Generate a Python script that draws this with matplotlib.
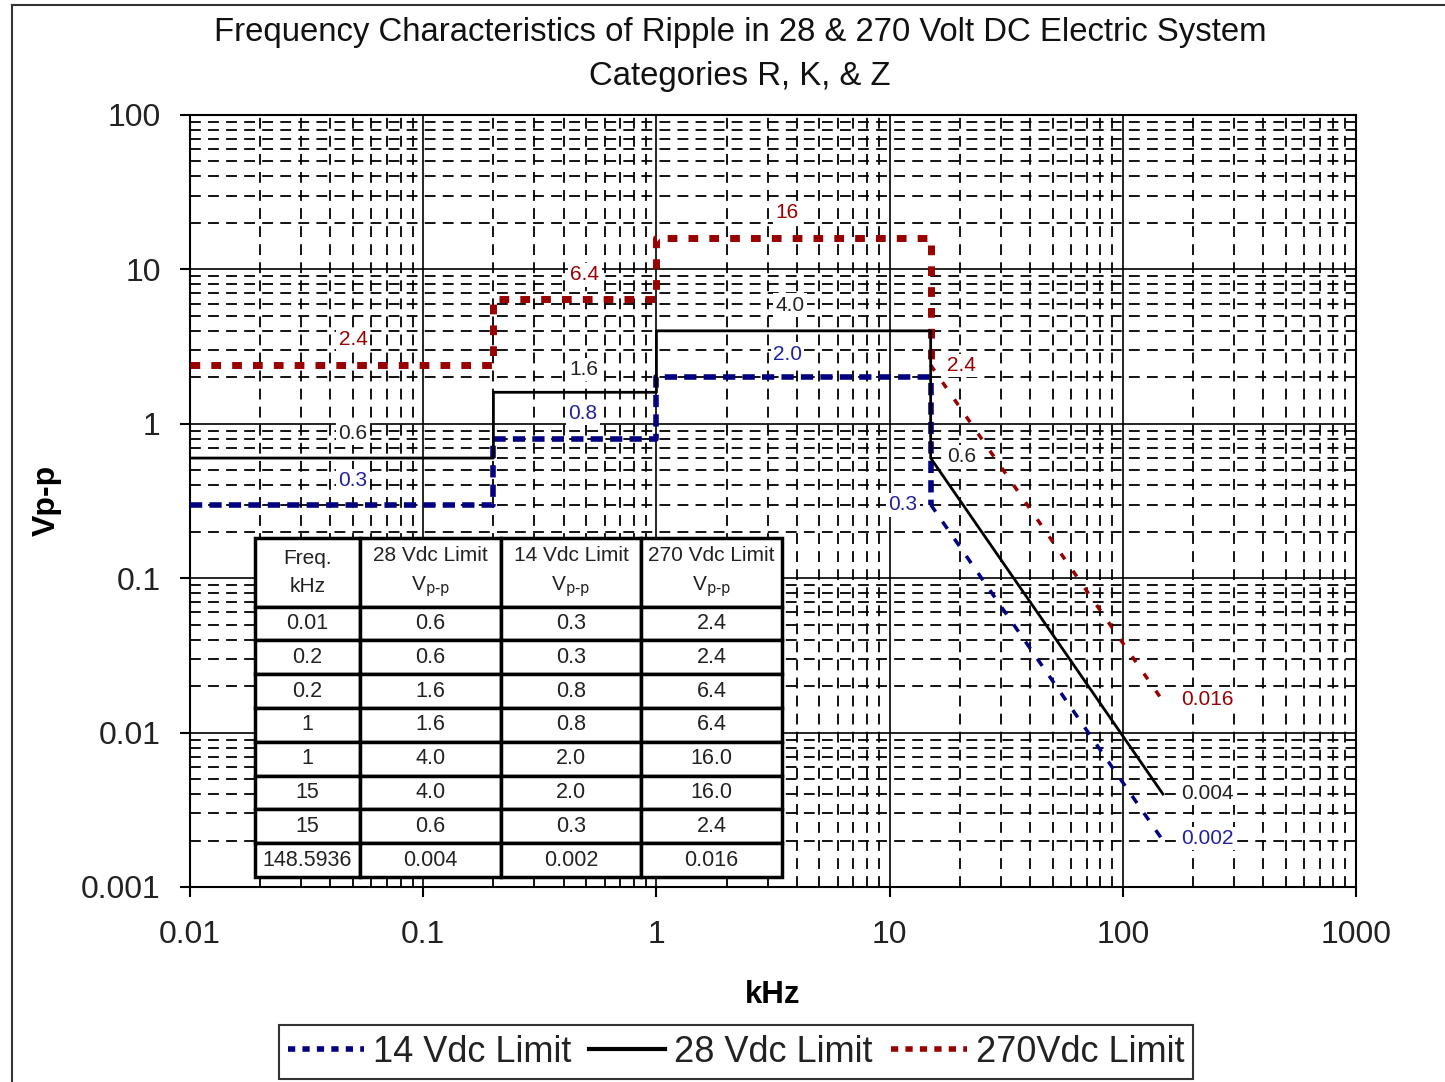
import matplotlib
matplotlib.use("Agg")
import matplotlib.pyplot as plt
from matplotlib.ticker import FixedLocator, NullFormatter, LogLocator
from matplotlib.lines import Line2D

plt.rcParams['font.family'] = ['Liberation Sans', 'DejaVu Sans']

# ---- data ----
freq_khz = [0.01, 0.2, 0.2, 1, 1, 15, 15, 148.5936]
v28 = [0.6, 0.6, 1.6, 1.6, 4.0, 4.0, 0.6, 0.004]
v14 = [0.3, 0.3, 0.8, 0.8, 2.0, 2.0, 0.3, 0.002]
v270 = [2.4, 2.4, 6.4, 6.4, 16.0, 16.0, 2.4, 0.016]

freq_labels = ["0.01", "0.2", "0.2", "1", "1", "15", "15", "148.5936"]
v28_labels = ["0.6", "0.6", "1.6", "1.6", "4.0", "4.0", "0.6", "0.004"]
v14_labels = ["0.3", "0.3", "0.8", "0.8", "2.0", "2.0", "0.3", "0.002"]
v270_labels = ["2.4", "2.4", "6.4", "6.4", "16.0", "16.0", "2.4", "0.016"]
table_header = ["Freq.\nkHz", "28 Vdc Limit\nV$_{\\mathrm{p\u2010p}}$", "14 Vdc Limit\nV$_{\\mathrm{p\u2010p}}$",
                "270 Vdc Limit\nV$_{\\mathrm{p\u2010p}}$"]

x_ticks = [0.01, 0.1, 1, 10, 100, 1000]
x_ticklabels = ["0.01", "0.1", "1", "10", "100", "1000"]
y_ticks = [0.001, 0.01, 0.1, 1, 10, 100]
y_ticklabels = ["0.001", "0.01", "0.1", "1", "10", "100"]

# value labels: (x, y, text, series)
point_labels = [
    (3.63, 23.5, "16", "270"), (0.494, 9.2, "6.4", "270"), (0.05, 3.49, "2.4", "270"),
    (3.74, 5.88, "4.0", "28"), (0.487, 2.26, "1.6", "28"), (3.66, 2.83, "2.0", "14"),
    (0.484, 1.17, "0.8", "14"), (0.05, 0.871, "0.6", "28"), (0.05, 0.427, "0.3", "14"),
    (20.4, 2.40, "2.4", "270"), (20.4, 0.61, "0.6", "28"), (11.4, 0.298, "0.3", "14"),
    (229.6, 0.0165, "0.016", "270"), (229.6, 0.00406, "0.004", "28"), (229.6, 0.00207, "0.002", "14"),
]

RED = "#990000"
BLUE = "#000080"
colors = {"270": RED, "28": "#222222", "14": "#2020a0"}

W, H = 1445, 1082
fig = plt.figure(figsize=(W / 100, H / 100), dpi=100)
ax = fig.add_axes([190 / W, 1 - 887 / H, (1356 - 190) / W, (887 - 115) / H])
ax.set_xscale("log")
ax.set_yscale("log")
ax.set_xlim(0.01, 1000)
ax.set_ylim(0.001, 100)

# grid
ax.xaxis.set_minor_locator(LogLocator(base=10, subs=range(2, 10)))
ax.yaxis.set_minor_locator(LogLocator(base=10, subs=range(2, 10)))
ax.xaxis.set_minor_formatter(NullFormatter())
ax.yaxis.set_minor_formatter(NullFormatter())
ax.grid(which="major", color="black", linewidth=1.2, linestyle="-", zorder=1)
ax.grid(which="minor", color="black", linewidth=1.3, linestyle=(0, (6, 4)), zorder=1)
ax.set_axisbelow(True)

ax.xaxis.set_major_locator(FixedLocator(x_ticks))
ax.set_xticklabels(x_ticklabels)
ax.yaxis.set_major_locator(FixedLocator(y_ticks))
ax.set_yticklabels(y_ticklabels)
ax.tick_params(which="major", direction="out", length=7, width=1.5, labelsize=23, colors="black")
ax.tick_params(axis="x", which="major", pad=17)
ax.tick_params(axis="y", which="major", pad=14)
ax.tick_params(which="minor", length=0)
for lab in ax.get_xticklabels() + ax.get_yticklabels():
    lab.set_color("#222222")
for s in ax.spines.values():
    s.set_linewidth(1.5)

# series: step part (thick) and roll-off part (thin, as rendered in the original)
ax.plot(freq_khz[:7], v270[:7], color=RED, linewidth=5, linestyle=(0, (1.4, 1.6)), zorder=3,
        dash_capstyle="butt")
ax.plot(freq_khz[6:], v270[6:], color=RED, linewidth=2.5, linestyle=(0, (2.0, 4.0)), zorder=3,
        dash_capstyle="butt")
ax.plot(freq_khz, v28, color="black", linewidth=2, linestyle="-", zorder=4)
ax.plot(freq_khz[:7], v14[:7], color=BLUE, linewidth=4, linestyle=(0, (2.2, 1.3)), zorder=3,
        dash_capstyle="butt")
ax.plot(freq_khz[6:], v14[6:], color=BLUE, linewidth=2.5, linestyle=(0, (2.5, 3.5)), zorder=3,
        dash_capstyle="butt")

for x, y, t, sname in point_labels:
    ax.text(x, y, t, color=colors[sname], fontsize=15, ha="center", va="center", zorder=5,
            bbox=dict(facecolor="white", edgecolor="none", pad=1.5))

# table
rows = [[f, a, b, c] for f, a, b, c in zip(freq_labels, v28_labels, v14_labels, v270_labels)]
tx0, tx1, ty_top, ty_bot = 255, 782, 538, 877
bbox = [(tx0 - 190) / 1166, (887 - ty_bot) / 772, (tx1 - tx0) / 1166, (ty_bot - ty_top) / 772]
tbl = ax.table(cellText=[table_header] + rows, cellLoc="center", bbox=bbox,
               colWidths=[105, 141, 140, 141], zorder=6)
tbl.auto_set_font_size(False)
tbl.set_fontsize(15.5)
for (r, c), cell in tbl.get_celld().items():
    cell.set_linewidth(2.5)
    cell.set_edgecolor("black")
    cell.set_facecolor("white")
    txt = cell.get_text()
    txt.set_color("#222222")
    if r == 0:
        cell.set_height(2.03)
        txt.set_fontsize(15)
        txt.set_linespacing(1.6)
    else:
        cell.set_height(1.0)
    cell.PAD = 0.02

# titles and labels
fig.text(740 / W, 1 - 33 / H, "Frequency Characteristics of Ripple in 28 & 270 Volt DC Electric System",
         ha="center", va="center", fontsize=23.7, color="#111111")
fig.text(740 / W, 1 - 77 / H, "Categories R, K, & Z", ha="center", va="center", fontsize=23.7, color="#111111")
fig.text(773 / W, 1 - 995 / H, "kHz", ha="center", va="center", fontsize=22.5, fontweight="bold")
fig.text(47 / W, 1 - 500 / H, "Vp-p", ha="center", va="center", fontsize=23, fontweight="bold", rotation=90)

# legend
handles = [
    Line2D([], [], color=BLUE, linewidth=4, linestyle=(0, (1.3, 1.3)), dash_capstyle="butt"),
    Line2D([], [], color="black", linewidth=3),
    Line2D([], [], color=RED, linewidth=4, linestyle=(0, (1.3, 1.3)), dash_capstyle="butt"),
]
leg = fig.legend(handles, ["14 Vdc Limit", "28 Vdc Limit", "270Vdc Limit"], loc="center",
                 bbox_to_anchor=(736 / W, 1 - 1052 / H), ncol=3, fontsize=26, frameon=True,
                 fancybox=False, edgecolor="black", handlelength=2.1, handletextpad=0.25,
                 columnspacing=0.5, borderpad=0.25, borderaxespad=0)
leg.get_frame().set_linewidth(1.5)
for t in leg.get_texts():
    t.set_color("#222222")

# outer chart border (left and top)
fig.add_artist(Line2D([12 / W, 12 / W], [0, 1 - 5 / H], color="#333333", linewidth=1.5, transform=fig.transFigure))
fig.add_artist(Line2D([12 / W, 1], [1 - 5 / H, 1 - 5 / H], color="#333333", linewidth=1.5, transform=fig.transFigure))

fig.savefig("out.png", dpi=100)
